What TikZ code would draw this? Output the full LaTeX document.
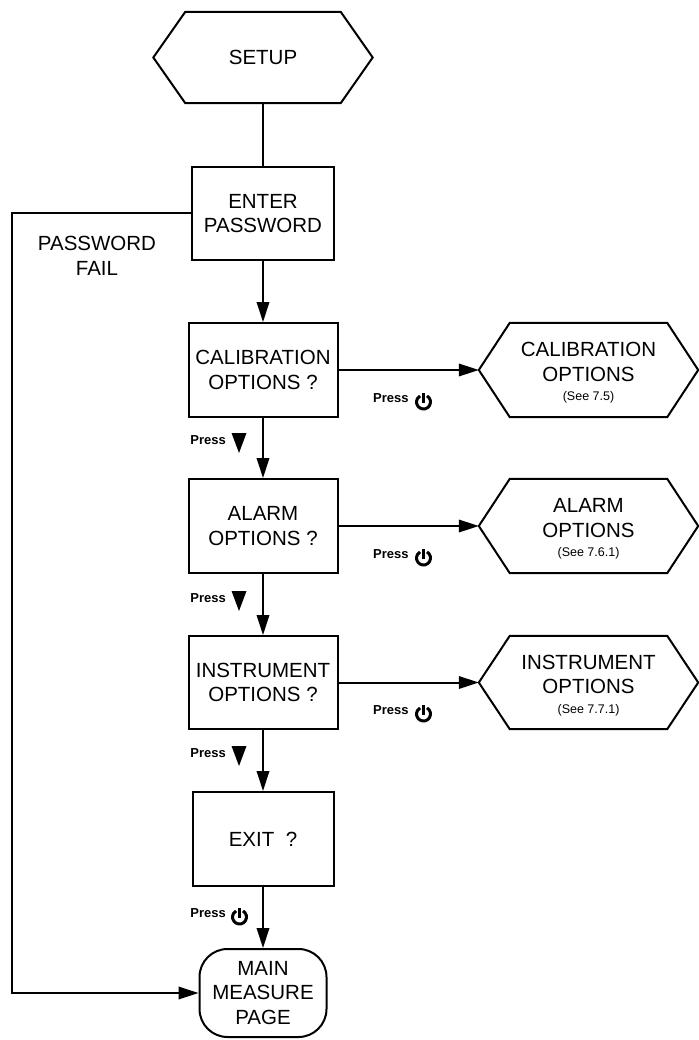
\documentclass[tikz,border=0pt]{standalone}
\usepackage{fontspec}
\setmainfont{Liberation Sans}
\usetikzlibrary{arrows.meta}
\newcommand\mainf{\fontsize{20.5}{24.5}\selectfont}
\newcommand\smallf{\fontsize{12.5}{14}\selectfont}
\newcommand\pressf{\fontsize{13}{15}\selectfont\bfseries}
\newcommand\hexframe[2]{%
  \draw[line width=2pt, line join=miter] (#1.west) -- ([xshift=#2]#1.north west) -- ([xshift=-#2]#1.north east)
    -- (#1.east) -- ([xshift=-#2]#1.south east) -- ([xshift=#2]#1.south west) -- cycle;}
\tikzset{
  box/.style={draw, line width=2pt, minimum width=149pt, minimum height=94pt, inner sep=2pt, align=center, font=\mainf},
  hexn/.style={minimum width=219pt, minimum height=94pt, inner sep=0pt, align=center, font=\mainf},
  term/.style={draw, line width=2pt, rounded corners=28pt, minimum width=127pt, minimum height=88pt, inner sep=2pt, align=center, font=\mainf},
  conn/.style={line width=2pt},
  arr/.style={line width=2pt, -{Triangle[length=20pt,width=12.5pt]}},
  presslbl/.style={font=\pressf, inner sep=0pt},
  lbl/.style={font=\mainf, align=center, inner sep=0pt},
  tri/.pic={\fill (-7.5,-10) -- (7.5,-10) -- (0,10) -- cycle;},
  pwr/.pic={\draw[line width=3pt] (-60:7) arc[start angle=-60, end angle=240, radius=7];
            \draw[line width=3pt] (0,0.5) -- (0,-9.5);}
}
\begin{document}
\begin{tikzpicture}[x=1pt,y=-1pt]
\fill[white] (0,0) rectangle (698,1040);
\useasboundingbox (0,0) rectangle (698,1040);

% main column
\node[hexn, minimum height=91pt] (setup) at (263,57.5) {SETUP};
\hexframe{setup}{32pt}
\node[box, minimum width=142pt, minimum height=93pt] (enter) at (263,213.5) {ENTER\\PASSWORD};
\node[box] (cal) at (263,370) {CALIBRATION\\OPTIONS ?};
\node[box] (alarm) at (263,526) {ALARM\\OPTIONS ?};
\node[box, minimum height=93pt] (instr) at (263,682.5) {INSTRUMENT\\OPTIONS ?};
\node[box, minimum width=141pt] (exit) at (263,839) {EXIT\ \ ?};
\node[term] (main) at (263,993) {MAIN\\MEASURE\\PAGE};

% option hexagons
\node[hexn] (calh) at (588.5,370) {\rule{0pt}{20pt}CALIBRATION\\OPTIONS\\[-5pt]{\smallf (See 7.5)}};
\hexframe{calh}{31pt}
\node[hexn] (alarmh) at (588.5,526) {\rule{0pt}{20pt}ALARM\\OPTIONS\\[-5pt]{\smallf (See 7.6.1)}};
\hexframe{alarmh}{31pt}
\node[hexn, minimum height=93pt] (instrh) at (588.5,682.5) {\rule{0pt}{20pt}INSTRUMENT\\OPTIONS\\[-5pt]{\smallf (See 7.7.1)}};
\hexframe{instrh}{31pt}

% connectors
\draw[conn] (setup) -- (enter);
\draw[arr] (enter) -- (cal);
\draw[arr] (cal) -- (alarm);
\draw[arr] (alarm) -- (instr);
\draw[arr] (instr) -- (exit);
\draw[arr] (exit) -- (main);
\draw[arr] (cal) -- (calh);
\draw[arr] (alarm) -- (alarmh);
\draw[arr] (instr) -- (instrh);
\coordinate (pfc) at (12,213.5);
\draw[arr] (enter.west) -- (pfc) |- (main.west);

% labels
\node[lbl] (pf) at (97,256) {PASSWORD\\FAIL};

\node[presslbl, anchor=east] (pd1) at (226,440) {Press};
\pic at (239,443) {tri};
\node[presslbl, anchor=east] (pd2) at (226,598) {Press};
\pic at (239,601) {tri};
\node[presslbl, anchor=east] (pd3) at (226,753) {Press};
\pic at (239,756) {tri};
\node[presslbl, anchor=east] (pd4) at (226,913) {Press};
\pic at (239.5,917) {pwr};

\node[presslbl, anchor=west] (pr1) at (373,398) {Press};
\pic at (423.5,402) {pwr};
\node[presslbl, anchor=west] (pr2) at (373,554) {Press};
\pic at (423.5,558) {pwr};
\node[presslbl, anchor=west] (pr3) at (373,710) {Press};
\pic at (423.5,714) {pwr};
\end{tikzpicture}
\end{document}
